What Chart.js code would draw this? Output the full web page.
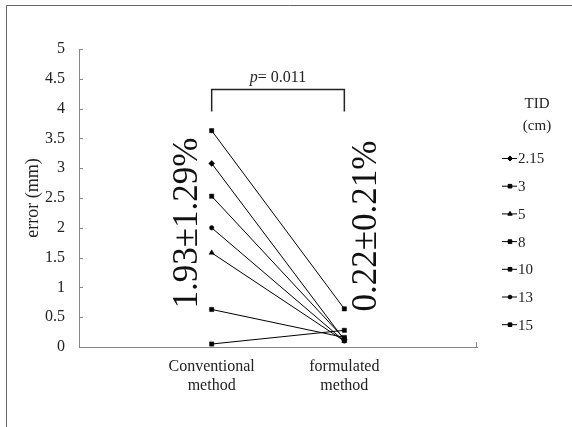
<!DOCTYPE html>
<html>
<head>
<meta charset="utf-8">
<script src="https://cdn.jsdelivr.net/npm/chart.js@4"></script>
<style>
  body { margin: 0; background: #fff; }
  #wrap { width: 572px; height: 427px; }
</style>
</head>
<body>
<div id="wrap"><canvas id="chart"></canvas></div>
<script>
// data
const categories = [['Conventional', 'method'], ['formulated', 'method']];
const tidLabels = ['2.15', '3', '5', '8', '10', '13', '15'];
const markers = ['rectRot', 'rect', 'triangle', 'rect', 'rect', 'circle', 'rect'];
const conventional = [3.08, 0.05, 1.58, 0.63, 2.53, 2.00, 3.63];
const formulated   = [0.12, 0.28, 0.10, 0.16, 0.14, 0.10, 0.64];
const yTicks = [0, 0.5, 1, 1.5, 2, 2.5, 3, 3.5, 4, 4.5, 5];
const meanLabels = ['1.93\u00b11.29%', '0.22\u00b10.21%'];
const pText = '= 0.011';

const serif = "'Liberation Serif', 'DejaVu Serif', serif";

const datasets = tidLabels.map((t, i) => ({
  label: t,
  data: [{ x: 1, y: conventional[i] }, { x: 2, y: formulated[i] }],
  borderColor: '#000',
  backgroundColor: '#000',
  borderWidth: 1,
  pointStyle: markers[i],
  pointRadius: markers[i] === 'circle' ? 2.2 : 3,
  pointBorderWidth: 0.5,
  tension: 0
}));

const extras = {
  id: 'extras',
  beforeDraw(chart) {
    const ctx = chart.ctx;
    ctx.save();
    ctx.fillStyle = '#fff';
    ctx.fillRect(0, 0, chart.width, chart.height);
    // outer frame
    ctx.strokeStyle = '#666';
    ctx.lineWidth = 1;
    ctx.beginPath();
    ctx.moveTo(6.5, chart.height);
    ctx.lineTo(6.5, 5.5);
    ctx.lineTo(chart.width, 5.5);
    ctx.stroke();
    ctx.restore();
  },
  afterDraw(chart) {
    const ctx = chart.ctx;
    const xs = chart.scales.x, ys = chart.scales.y;
    ctx.save();
    // small inside ticks on y axis
    ctx.strokeStyle = '#888';
    ctx.lineWidth = 1;
    ctx.beginPath();
    yTicks.forEach(v => {
      const py = Math.round(ys.getPixelForValue(v)) + 0.5;
      ctx.moveTo(xs.left, py);
      ctx.lineTo(xs.left + 4, py);
    });
    ctx.moveTo(xs.right - 0.5, ys.bottom);
    ctx.lineTo(xs.right - 0.5, ys.bottom - 5);
    ctx.stroke();

    // significance bracket
    const bx1 = xs.getPixelForValue(1), bx2 = xs.getPixelForValue(2);
    const bTop = ys.getPixelForValue(4.32), bBot = ys.getPixelForValue(3.95);
    ctx.strokeStyle = '#222';
    ctx.lineWidth = 1.5;
    ctx.beginPath();
    ctx.moveTo(bx1, bBot);
    ctx.lineTo(bx1, bTop);
    ctx.lineTo(bx2, bTop);
    ctx.lineTo(bx2, bBot);
    ctx.stroke();

    ctx.fillStyle = '#222';
    ctx.textBaseline = 'alphabetic';
    ctx.font = 'italic 16px ' + serif;
    const pw = ctx.measureText('p').width;
    ctx.font = '16px ' + serif;
    const tw = ctx.measureText(pText).width;
    const cx = (bx1 + bx2) / 2;
    const startX = cx - (pw + tw) / 2;
    ctx.font = 'italic 16px ' + serif;
    ctx.textAlign = 'left';
    ctx.fillText('p', startX, bTop - 8);
    ctx.font = '16px ' + serif;
    ctx.fillText(pText, startX + pw, bTop - 8);

    // rotated mean +- sd labels
    const spots = [[0.82, 2.08], [2.17, 2.03]];
    ctx.font = '35px ' + serif;
    ctx.textAlign = 'center';
    ctx.textBaseline = 'middle';
    ctx.fillStyle = '#111';
    meanLabels.forEach((txt, i) => {
      ctx.save();
      ctx.translate(xs.getPixelForValue(spots[i][0]), ys.getPixelForValue(spots[i][1]));
      ctx.rotate(-Math.PI / 2);
      ctx.fillText(txt, 0, 0);
      ctx.restore();
    });

    // legend
    ctx.font = '15px ' + serif;
    ctx.fillStyle = '#222';
    ctx.textAlign = 'center';
    ctx.fillText('TID', 537, 104);
    ctx.fillText('(cm)', 537, 126);
    ctx.textAlign = 'left';
    chart.data.datasets.forEach((ds, i) => {
      const ly = 158.5 + i * 27.7;
      ctx.strokeStyle = '#000';
      ctx.lineWidth = 1;
      ctx.beginPath();
      ctx.moveTo(502, ly);
      ctx.lineTo(517, ly);
      ctx.stroke();
      ctx.fillStyle = '#000';
      Chart.helpers.drawPoint(ctx, {
        pointStyle: ds.pointStyle,
        radius: ds.pointRadius * 0.85,
        rotation: 0,
        borderWidth: 0.5
      }, 510, ly);
      ctx.fillStyle = '#222';
      ctx.fillText(ds.label, 518, ly + 1);
    });
    ctx.restore();
  }
};

new Chart(document.getElementById('chart'), {
  type: 'line',
  data: { datasets: datasets },
  options: {
    responsive: true,
    maintainAspectRatio: false,
    animation: false,
    layout: { padding: { left: 0, right: 95, top: 49, bottom: 0 } },
    plugins: {
      legend: { display: false },
      tooltip: { enabled: false }
    },
    scales: {
      x: {
        type: 'linear',
        min: 0,
        max: 3,
        grid: { display: true, drawOnChartArea: false, drawTicks: false },
        border: { color: '#888', width: 1 },
        afterBuildTicks: s => { s.ticks = [{ value: 1 }, { value: 2 }]; },
        afterFit: s => { s.height = 80; },
        ticks: {
          padding: 10,
          color: '#222',
          font: { family: serif, size: 16 },
          callback: v => categories[v - 1]
        }
      },
      y: {
        min: 0,
        max: 5,
        grid: { display: true, drawOnChartArea: false, drawTicks: false },
        border: { color: '#888', width: 1 },
        afterBuildTicks: s => { s.ticks = yTicks.map(v => ({ value: v })); },
        afterFit: s => { s.width = 79; },
        ticks: {
          padding: 14,
          color: '#222',
          font: { family: serif, size: 16 },
          callback: v => String(v)
        },
        title: {
          display: true,
          text: 'error (mm)',
          color: '#222',
          font: { family: serif, size: 18 },
          padding: { top: 22, bottom: 0 }
        }
      }
    }
  },
  plugins: [extras]
});
</script>
</body>
</html>
